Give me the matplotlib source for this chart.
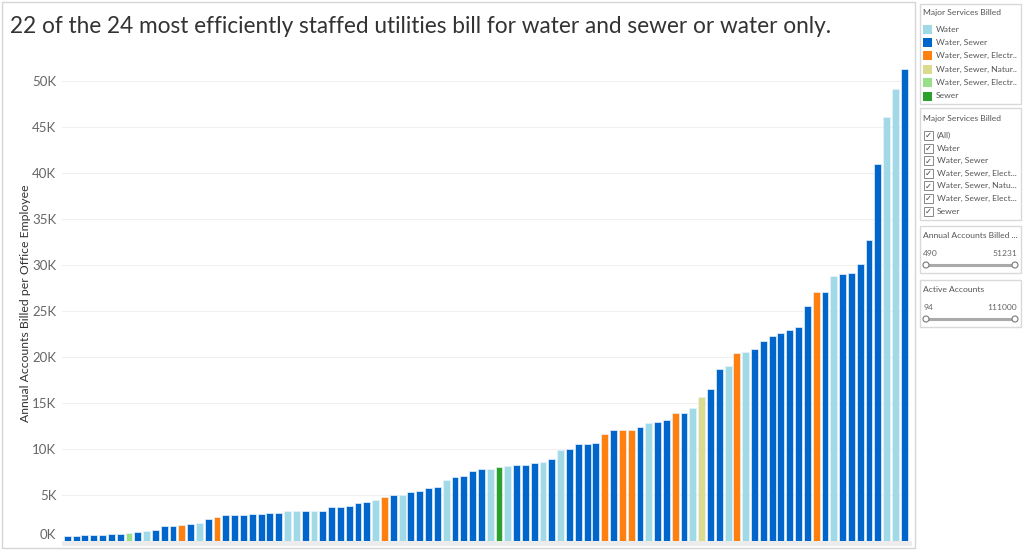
import matplotlib
matplotlib.use("Agg")
import matplotlib.pyplot as plt
from matplotlib.patches import Rectangle, Circle

plt.rcParams["font.family"] = ["Lato", "DejaVu Sans"]

# annual accounts billed per office employee, sorted ascending
values = [490, 540, 620, 690, 690, 760, 760, 900, 980, 1090,
          1160, 1590, 1630, 1780, 1850, 1920, 2390, 2570, 2790, 2860,
          2860, 2930, 2930, 3000, 3000, 3220, 3220, 3220, 3300, 3300,
          3730, 3730, 3800, 4160, 4240, 4460, 4820, 4960, 5000, 5330,
          5470, 5760, 5830, 6670, 6920, 7070, 7640, 7830, 7830, 8010,
          8190, 8260, 8260, 8480, 8620, 8910, 9930, 10000, 10510, 10540,
          10690, 11630, 12030, 12030, 12030, 12430, 12790, 12930, 13120, 13880,
          13880, 14460, 15620, 16560, 18700, 19060, 20400, 20580, 20870, 21740,
          22250, 22600, 22970, 23260, 25470, 27070, 27070, 28800, 29020, 29090,
          30100, 32680, 40900, 46000, 49100, 51231]

# service code per bar: W water, WS water+sewer, WSE water+sewer+electric,
# WSN water+sewer+natural gas, WSE2 second electric group, S sewer
services = ["WS", "WS", "WS", "WS", "WS", "WS", "WS", "WSE2", "WS", "W",
            "WS", "WS", "WS", "WSE", "WS", "W", "WS", "WSE", "WS", "WS",
            "WS", "WS", "WS", "WS", "WS", "W", "W", "WS", "W", "WS",
            "WS", "WS", "WS", "WS", "WS", "W", "WSE", "WS", "W", "WS",
            "WS", "WS", "WS", "W", "WS", "WS", "WS", "WS", "W", "S",
            "W", "WS", "WS", "WS", "W", "WS", "W", "WS", "WS", "WS",
            "WS", "WSE", "WS", "WSE", "WSE", "WS", "W", "WS", "WS", "WSE",
            "WS", "W", "WSN", "WS", "WS", "W", "WSE", "W", "WS", "WS",
            "WS", "WS", "WS", "WS", "WS", "WSE", "WS", "W", "WS", "WS",
            "WS", "WS", "WS", "W", "W", "WS"]

legend_codes = ["W", "WS", "WSE", "WSN", "WSE2", "S"]
legend_labels = ["Water", "Water, Sewer", "Water, Sewer, Electr..",
                 "Water, Sewer, Natur..", "Water, Sewer, Electr..", "Sewer"]
colors = {"W": "#9fdae6", "WS": "#0066cc", "WSE": "#ff800e",
          "WSN": "#dbdb8d", "WSE2": "#98df8a", "S": "#2ca02c"}

filter_items = ["(All)", "Water", "Water, Sewer", "Water, Sewer, Elect...",
                "Water, Sewer, Natu...", "Water, Sewer, Elect...", "Sewer"]

yticks = list(range(0, 50001, 5000))
ytick_labels = [f"{v // 1000}K" for v in yticks]

fig = plt.figure(figsize=(10.24, 5.52), dpi=100)
fig.patch.set_facecolor("white")

# pixel-space overlay for panels
ui = fig.add_axes([0, 0, 1, 1], zorder=0)
ui.set_xlim(0, 1024)
ui.set_ylim(552, 0)
ui.axis("off")

ui.add_patch(Rectangle((1.5, 1.5), 913, 546, fill=False, ec="#d6d6d6", lw=1))
ui.add_patch(Rectangle((62, 541), 850, 5, fc="#ececec", ec="none"))

ui.text(10, 33, "22 of the 24 most efficiently staffed utilities bill for water and sewer or water only.",
        fontsize=16.3, color="#333333", va="baseline", ha="left")

grey = "#555555"
box_ec = "#d9d9d9"
fs = 6.1

# legend box
ui.add_patch(Rectangle((919.5, 3.5), 101, 100, fill=False, ec=box_ec, lw=1))
ui.text(923, 13, "Major Services Billed", fontsize=fs, color=grey, va="center")
for i, (code, lab) in enumerate(zip(legend_codes, legend_labels)):
    y = 29 + i * 13.4
    ui.add_patch(Rectangle((923, y - 4.5), 9, 9, fc=colors[code], ec="none"))
    ui.text(936, y, lab, fontsize=fs, color=grey, va="center")

# filter box
ui.add_patch(Rectangle((919.5, 107.5), 101, 112, fill=False, ec=box_ec, lw=1))
ui.text(923, 118, "Major Services Billed", fontsize=fs, color=grey, va="center")
for i, lab in enumerate(filter_items):
    y = 135.5 + i * 12.6
    ui.add_patch(Rectangle((924, y - 4.5), 9, 9, fc="white", ec="#888888", lw=0.7))
    ui.text(928.5, y + 0.3, "\u2713", fontsize=6, color="#444444", va="center", ha="center",
            family="DejaVu Sans")
    ui.text(937, y, lab, fontsize=fs, color=grey, va="center")

# slider boxes
sliders = [("Annual Accounts Billed ...", "490", "51231", 225),
           ("Active Accounts", "94", "111000", 279)]
for title, lo, hi, top in sliders:
    ui.add_patch(Rectangle((919.5, top + 0.5), 101, 47, fill=False, ec=box_ec, lw=1))
    ui.text(923, top + 10, title, fontsize=fs, color=grey, va="center")
    ui.text(923, top + 28, lo, fontsize=fs, color="#666666", va="center")
    ui.text(1017, top + 28, hi, fontsize=fs, color="#666666", va="center", ha="right")
    ui.plot([926, 1015], [top + 40, top + 40], color="#aaaaaa", lw=2.2, solid_capstyle="butt")
    for cx in (926, 1015):
        ui.add_patch(Circle((cx, top + 40), 3, fc="white", ec="#777777", lw=0.8, zorder=3))

# main bar chart
ax = fig.add_axes([62 / 1024, 11 / 552, 848 / 1024, 488 / 552], zorder=1)
ax.set_facecolor("none")
x = list(range(len(values)))
bar_colors = [colors[s] for s in services]
ax.bar(x, values, width=0.78, color=bar_colors, edgecolor="#e8f2fb", linewidth=0.5, zorder=2)

ax.set_xlim(-0.6, len(values) - 0.35)
ax.set_ylim(0, 53000)
ax.set_yticks(yticks)
ax.set_yticklabels(ytick_labels)
ax.tick_params(axis="y", length=0, labelsize=9.5, labelcolor="#666666", pad=4)
ax.get_yticklabels()[0].set_va("bottom")
ax.set_xticks([])
ax.grid(axis="y", color="#f0f0f0", lw=0.8, zorder=0)
for s in ax.spines.values():
    s.set_visible(False)
ax.set_ylabel("Annual Accounts Billed per Office Employee", fontsize=8.8, color="#333333")
ax.yaxis.set_label_coords(-0.037, 0.487)

fig.savefig("out.png", dpi=100)
